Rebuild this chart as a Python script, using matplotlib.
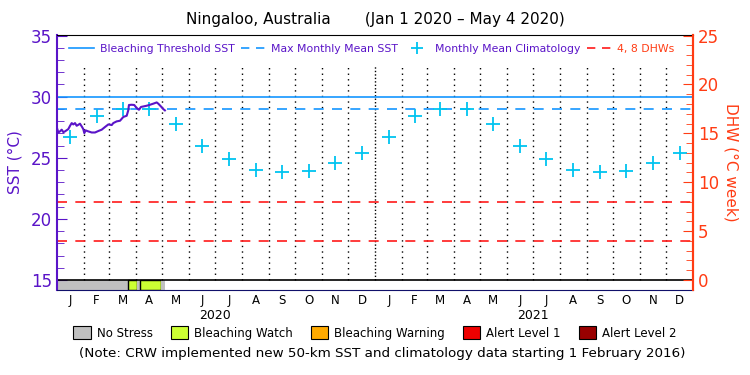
import numpy as np
import matplotlib.pyplot as plt
from matplotlib.lines import Line2D
from matplotlib.patches import Patch

# daily SST (day of 2020, degC)
sst_day = [0, 1.5, 3.4, 5.4, 7.3, 9.2, 13, 15, 16.9, 18.7, 20.7, 22.6, 24.5, 26.4, 28.4,
           30.2, 31.4, 33, 36, 39.9, 43.7, 47.5, 51.4, 55.2, 59, 62.9, 64.7, 68.6, 72.4,
           76.2, 78.1, 80.1, 81.9, 82.7, 85.8, 88.8, 91.6, 94.2, 96.5, 99.2, 103.1, 106.9,
           110.7, 114.6, 116.4, 119.5, 122.1, 124]
sst_val = [27.43, 27.07, 27.16, 27.3, 27.1, 27.16, 27.35, 27.62, 27.84, 27.73, 27.84, 27.62,
           27.7, 27.79, 27.57, 27.35, 27.02, 27.24, 27.16, 27.07, 27.07, 27.19, 27.3, 27.52,
           27.73, 27.68, 27.84, 27.98, 28.03, 28.34, 28.39, 28.44, 28.88, 29.32, 29.34, 29.32,
           29.07, 28.93, 29.16, 29.2, 29.26, 29.34, 29.43, 29.53, 29.43, 29.2, 28.99, 28.88]

# monthly mean climatology Jan..Dec
clim = [26.7, 28.45, 29.0, 29.0, 27.8, 26.0, 24.9, 24.0, 23.8, 23.9, 24.55, 25.4]
threshold = 30.0
mmm = 29.0
dhw_levels = [4, 8]

# stress level bar: start day, length, level
stress_start = [0, 82, 92, 95, 119]
stress_len = [82, 10, 3, 24, 5]
stress_level = ["No Stress", "Bleaching Watch", "No Stress", "Bleaching Watch", "No Stress"]

month_letters = ["J", "F", "M", "A", "M", "J", "J", "A", "S", "O", "N", "D"]
years = ["2020", "2021"]
level_names = ["No Stress", "Bleaching Watch", "Bleaching Warning", "Alert Level 1", "Alert Level 2"]
level_colors = ["#c0c0c0", "#ccff33", "#ffaa00", "#ee0000", "#990000"]

purple = "#5a14c8"
orange = "#ff3c14"
blue = "#1496ff"
cyan = "#00c4f0"

month_starts = np.arange(np.datetime64("2020-01"), np.datetime64("2022-02"), np.timedelta64(1, "M"))
month_days = (month_starts.astype("datetime64[D]") - np.datetime64("2020-01-01")).astype(float)
mid_days = (month_days[:-1] + month_days[1:]) / 2

fig = plt.figure(figsize=(7.5, 3.75), dpi=100)
ax = fig.add_axes([0.076, 0.2267, 0.848, 0.68])
ylo, yhi = 14.18, 35.05
ax.set_xlim(0, month_days[24])
ax.set_ylim(ylo, yhi)

# month gridlines
for i, d in enumerate(month_days[1:24]):
    if i == 11:
        ax.vlines(d, 15, 32.6, colors="black", linestyles=(0, (1, 1.5)), lw=1)
    else:
        ax.vlines(d, 15, 32.6, colors="black", linestyles=(0, (1, 3)), lw=1)

ax.axhline(threshold, color=blue, lw=1.2)
ax.axhline(mmm, color=blue, lw=1.2, ls=(0, (6, 5)))
for lv in dhw_levels:
    ax.axhline(15 + lv / 1.25, color="#ff1a1a", lw=1.2, ls=(0, (6, 5)))

ax.plot(mid_days, clim * 2, ls="none", marker="+", ms=10, mew=1.3, color=cyan)
ax.plot(sst_day, sst_val, color=purple, lw=1.5)

# stress bar
cmap = dict(zip(level_names, level_colors))
for s, w, lv in zip(stress_start, stress_len, stress_level):
    ec = "black" if lv != "No Stress" else "none"
    ax.bar(s, 15 - ylo, width=w, bottom=ylo, align="edge", color=cmap[lv], edgecolor=ec, lw=1)
ax.axhline(15, color="black", lw=1.2)

ax.set_xticks(mid_days)
ax.set_xticklabels(month_letters * 2, fontsize=8.5)
ax.tick_params(axis="x", length=0, pad=3)
for k, yr in enumerate(years):
    ax.text(month_days[12 * k + 6], -0.075, yr, transform=ax.get_xaxis_transform(),
            ha="center", va="top", fontsize=9)

ax.set_yticks([15, 20, 25, 30, 35])
ax.set_yticks(np.arange(15, 36, 1), minor=True)
ax.tick_params(axis="y", which="major", direction="in", length=7, colors=purple, labelsize=12)
ax.tick_params(axis="y", which="minor", direction="in", length=5, colors=purple)
ax.set_ylabel("SST (°C)", color=purple, fontsize=11, labelpad=6)
ax.spines["left"].set_color(purple)
ax.spines["left"].set_linewidth(1.5)
ax.spines["bottom"].set_color("#10106a")
ax.spines["right"].set_color(orange)
ax.spines["right"].set_linewidth(1.5)

ax2 = ax.twinx()
ax2.set_ylim((ylo - 15) * 1.25, (yhi - 15) * 1.25)
ax2.set_yticks([0, 5, 10, 15, 20, 25])
ax2.set_yticks(np.arange(0, 26, 1), minor=True)
ax2.tick_params(axis="y", which="major", direction="in", length=7, colors=orange, labelsize=12)
ax2.tick_params(axis="y", which="minor", direction="in", length=5, colors=orange)
ax2.set_ylabel("DHW (°C week)", color=orange, fontsize=11, rotation=-90, labelpad=14)
for sp in ["left", "top", "bottom"]:
    ax2.spines[sp].set_visible(False)
ax2.spines["right"].set_color(orange)
ax2.spines["right"].set_linewidth(1.5)

handles = [Line2D([], [], color=blue, lw=1.2),
           Line2D([], [], color=blue, lw=1.2, ls=(0, (5, 4))),
           Line2D([], [], color=cyan, ls="none", marker="+", ms=8, mew=1.3),
           Line2D([], [], color="#ff1a1a", lw=1.2, ls=(0, (5, 4)))]
labels = ["Bleaching Threshold SST", "Max Monthly Mean SST", "Monthly Mean Climatology", "4, 8 DHWs"]
leg = ax.legend(handles, labels, loc="center", bbox_to_anchor=(0.495, 0.945), ncol=4,
                frameon=False, fontsize=7.8, handlelength=2.3, columnspacing=0.6,
                handletextpad=0.5)
for t, c in zip(leg.get_texts(), [purple, purple, purple, orange]):
    t.set_color(c)

fig.text(0.5, 0.947, "Ningaloo, Australia       (Jan 1 2020 \u2013 May 4 2020)",
         ha="center", va="center", fontsize=11)

patches = [Patch(facecolor=c, edgecolor="black", lw=0.8) for c in level_colors]
fig.legend(patches, level_names, loc="center", bbox_to_anchor=(0.5, 0.112), ncol=5,
           frameon=False, fontsize=8.5, handlelength=1.5, handleheight=1.2,
           columnspacing=1.5, handletextpad=0.5)
fig.text(0.51, 0.056, "(Note: CRW implemented new 50-km SST and climatology data starting 1 February 2016)",
         ha="center", va="center", fontsize=9.7)

fig.savefig("out.png", dpi=100)
